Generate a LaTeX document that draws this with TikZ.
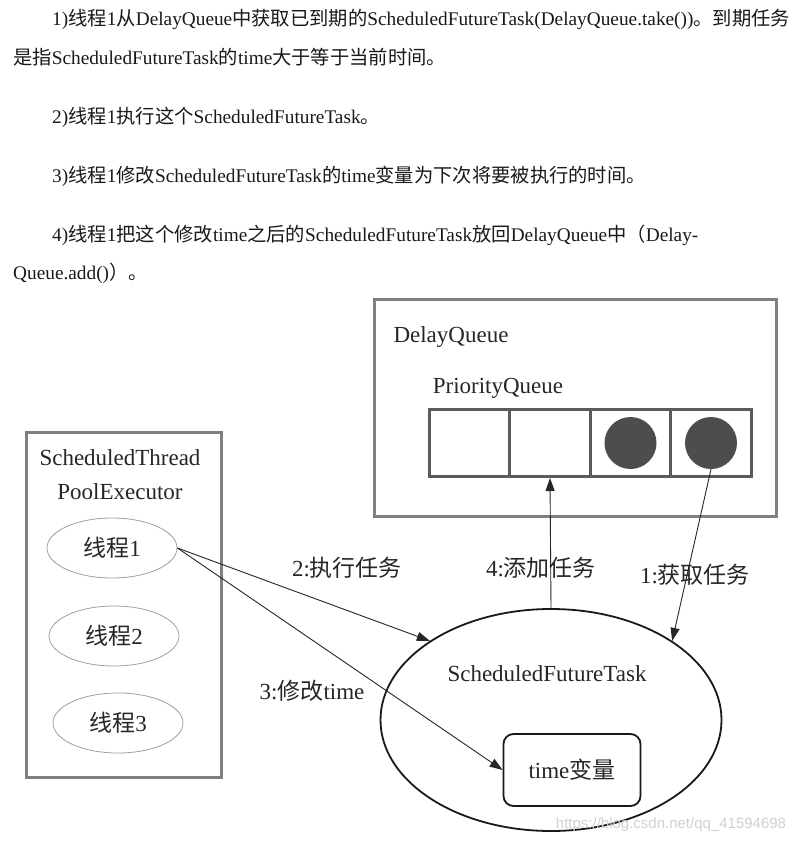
\documentclass[tikz,border=0pt]{standalone}
\usepackage{fontspec}
\setmainfont{Liberation Serif}
\setsansfont{Liberation Sans}
\newfontfamily\cjk{Noto Sans CJK SC}
\usepackage{tikz}
\usetikzlibrary{positioning,arrows.meta,shapes.geometric}
\newcommand{\zh}[1]{{\cjk #1}}
\definecolor{boxgray}{HTML}{808080}
\definecolor{cellgray}{HTML}{5A5A5A}
\definecolor{dotgray}{HTML}{4D4D4D}
\definecolor{thingray}{HTML}{A0A0A0}

\begin{document}
\begin{tikzpicture}[x=1pt, y=-1pt, >={Triangle[length=13pt,width=9pt]},
    para/.style={anchor=base west, inner sep=0pt, font=\fontsize{19.3}{22}\selectfont, text=black!90},
    lbl/.style={inner sep=0pt, font=\fontsize{23}{26}\selectfont, text=black!85},
    outer/.style={draw=boxgray, line width=3pt},
    cell/.style={draw=cellgray, line width=3pt, minimum width=80.5pt, minimum height=67pt, inner sep=0pt},
    dot/.style={circle, fill=dotgray, minimum size=52pt, inner sep=0pt},
    thread/.style={ellipse, draw=thingray, line width=0.8pt, minimum width=130pt, minimum height=60pt, inner sep=0pt, font=\fontsize{23}{26}\selectfont, text=black!85},
    arr/.style={->, line width=0.9pt, draw=black!85}
]
    \useasboundingbox (0,0) rectangle (804,846);
    \fill[white] (0,0) rectangle (804,846);

    % Text above the diagram
    \node[para] (p1) at (52,25) {1)\zh{线程}1\zh{从}DelayQueue\zh{中获取已到期的}ScheduledFutureTask(DelayQueue.take())\zh{。到期任务}};
    \node[para] (p2) at (13,64) {\zh{是指}ScheduledFutureTask\zh{的}time\zh{大于等于当前时间。}};
    \node[para] (p3) at (52,123) {2)\zh{线程}1\zh{执行这个}ScheduledFutureTask\zh{。}};
    \node[para] (p4) at (52,182) {3)\zh{线程}1\zh{修改}ScheduledFutureTask\zh{的}time\zh{变量为下次将要被执行的时间。}};
    \node[para] (p5) at (52,241) {4)\zh{线程}1\zh{把这个修改}time\zh{之后的}ScheduledFutureTask\zh{放回}DelayQueue\zh{中（}Delay-};
    \node[para] (p6) at (13,279) {Queue.add()\zh{）。}};

    % DelayQueue
    \draw[outer] (374.5,299.5) rectangle (776.5,516.5);
    \node[lbl] (dq) at (451,337) {DelayQueue};
    \node[lbl] (pq) at (498,388) {PriorityQueue};
    \foreach \i in {1,...,4}
        \node[cell] (cell\i) at ({389+80.5*\i},443) {};
    \node[dot] (dot3) at (cell3) {};
    \node[dot] (dot4) at (cell4) {};

    % ScheduledThreadPoolExecutor
    \draw[outer] (26.5,432.5) rectangle (221.5,777.5);
    \node[lbl] (stpe) at (120,458) {ScheduledThread};
    \node[lbl] (stpe2) at (120,492) {PoolExecutor};
    \node[thread] (t1) at (112,548) {\zh{线程}1};
    \node[thread] (t2) at (114,636) {\zh{线程}2};
    \node[thread] (t3) at (118,723) {\zh{线程}3};

    % ScheduledFutureTask
    \node[ellipse, draw=black!90, line width=1.8pt, minimum width=341pt, minimum height=222pt] (fut) at (551,720) {};
    \node[lbl] (futname) at (547,674) {ScheduledFutureTask};
    \node[draw=black!90, line width=1.8pt, rounded corners=10pt, minimum width=137pt, minimum height=72pt, font=\fontsize{23}{26}\selectfont, text=black!85] (tv) at (572,770) {time\zh{变量}};

    % Arrows
    \draw[arr] (dot4.south) -- (fut.north east);
    \draw[arr] (t1.east) -- (fut.north west);
    \draw[arr] (t1.east) -- (tv.west);
    \draw[arr] (fut.north) -- (cell2.south);

    \node[lbl] (l1) at (695,575) {1:\zh{获取任务}};
    \node[lbl] (l2) at (347,568) {2:\zh{执行任务}};
    \node[lbl] (l3) at (312,691) {3:\zh{修改}time};
    \node[lbl] (l4) at (541,568) {4:\zh{添加任务}};

    \node[font=\sffamily\fontsize{15}{18}\selectfont, text=black!18] (wm) at (671,825) {https://blog.csdn.net/qq\_41594698};
\end{tikzpicture}
\end{document}
